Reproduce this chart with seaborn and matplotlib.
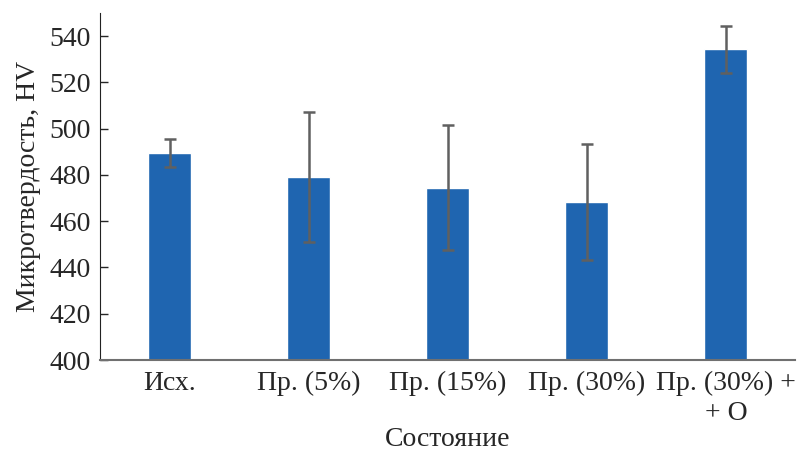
import matplotlib
matplotlib.use("Agg")
import matplotlib.pyplot as plt
import seaborn as sns
import pandas as pd

# ── Data ──────────────────────────────────────────────────────────────────────
states = ["Исх.", "Пр. (5%)", "Пр. (15%)", "Пр. (30%)", "Пр. (30%) +\n+ O"]
hardness = [489.5, 479.2, 474.5, 468.4, 534.3]
hardness_err = [6.0, 28.0, 27.0, 25.0, 10.3]

df = pd.DataFrame({"state": states, "hv": hardness})

# ── Style ─────────────────────────────────────────────────────────────────────
sns.set_style("ticks")
plt.rcParams["font.family"] = ["Liberation Serif", "DejaVu Serif"]

fig, ax = plt.subplots(figsize=(8.01, 4.5), dpi=100)
fig.subplots_adjust(left=0.125, right=0.993, bottom=0.2, top=0.971)

sns.barplot(data=df, x="state", y="hv", color="#1f65b0", saturation=1,
            width=0.31, ax=ax)
ax.errorbar(range(len(states)), hardness, yerr=hardness_err, fmt="none",
            ecolor="#606060", elinewidth=1.8, capsize=4, capthick=1.8)

ax.set_xlim(-0.5, len(states) - 0.5)
ax.set_ylim(400, 550)
ax.set_yticks(range(400, 541, 20))
ax.set_xlabel("Состояние", fontsize=20)
ax.xaxis.label.set_va("center")
ax.xaxis.set_label_coords(0.5, -0.228)
ax.set_ylabel("Микротвердость, HV", fontsize=20, labelpad=6)
ax.tick_params(axis="y", direction="in", length=6, labelsize=20, width=1, pad=7)
ax.tick_params(axis="x", length=0, labelsize=20, pad=8)
for lbl in ax.get_xticklabels():
    lbl.set_linespacing(1.25)

for side in ("top", "right"):
    ax.spines[side].set_visible(False)
ax.spines["left"].set_color("#222222")
ax.spines["bottom"].set_color("#707070")
ax.spines["bottom"].set_linewidth(1.5)

fig.savefig("out.png", dpi=100)
